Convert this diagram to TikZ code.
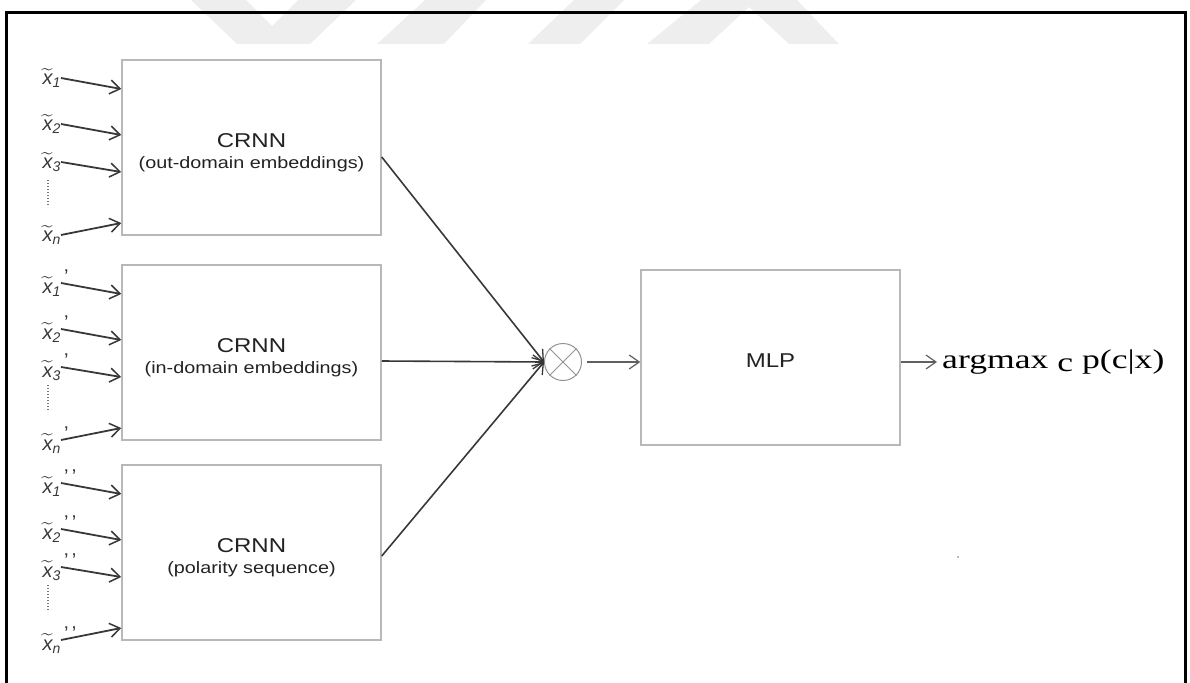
\documentclass[tikz,border=0pt]{standalone}
\usepackage{amsmath}
\usepackage{graphicx}
\usepackage{fontspec}
\setmainfont{Liberation Sans}
\newfontfamily\outserif{Liberation Serif}
\usetikzlibrary{arrows.meta,calc}

\definecolor{wmark}{HTML}{EEEEEE}
\definecolor{boxline}{HTML}{B8B8B8}
\definecolor{ink}{HTML}{383838}
\definecolor{txt}{HTML}{222222}

% input symbol: tilde x with subscript and optional primes
\newcommand{\xin}[2]{$\widetilde{\text{\itshape x}}_{\text{\itshape #1}}$\rlap{\raisebox{0.9ex}{\,#2}}}
% slightly widened lettering
\newcommand{\wide}[2]{\scalebox{#1}[1]{#2}}

\tikzset{
  blockbox/.style={draw=boxline, line width=1.5pt, minimum width=259pt, minimum height=175pt,
    align=center, text=txt, inner sep=0pt},
  inlab/.style={inner sep=0pt, text=ink, font=\fontsize{20}{22}\selectfont},
  inarrow/.style={draw=ink, line width=1.8pt, -{Straight Barb[length=10pt,width=14pt,line width=1.5pt]}},
  conn/.style={draw=ink, line width=1.6pt, -{Straight Barb[length=10pt,width=14pt,line width=1.3pt]}},
  thinarrow/.style={draw=ink!80, line width=1.3pt, -{Straight Barb[length=10pt,width=14pt,line width=1.2pt]}},
  dotline/.style={draw=ink!70, line width=1.3pt, dash pattern=on 1pt off 2pt},
  title/.style={inner sep=0pt, text=txt, font=\fontsize{20}{22}\selectfont},
  sub/.style={inner sep=0pt, text=txt, font=\fontsize{16.5}{18}\selectfont},
}

\begin{document}
\begin{tikzpicture}[x=1pt,y=-1pt]
\useasboundingbox (0,0) rectangle (1190,682);
\clip (0,0) rectangle (1190,682);

% faint logo stripes along the top edge
\fill[wmark] (191,0) -- (237,44) -- (310,44) -- (356,0) -- (298,0) -- (272,26) -- (246,0) -- cycle;
\fill[wmark] (377,44) -- (425,0) -- (486,0) -- (444,44) -- cycle;
\fill[wmark] (528,44) -- (574,0) -- (624,0) -- (580,44) -- cycle;
\fill[wmark] (647,44) -- (701,0) -- (797,0) -- (839,44) -- (789,44) -- (749,7) -- (709,44) -- cycle;

% outer frame
\draw[line width=3pt] (6,13) rectangle (1185,720);

% three encoders
\node[blockbox] (b1) at (251.5,147.5) {};
\node[blockbox] (b2) at (251.5,352.5) {};
\node[blockbox] (b3) at (251.5,552.5) {};
\foreach \b/\s in {b1/out-domain embeddings, b2/in-domain embeddings, b3/polarity sequence} {
  \node[title] (\b-t) at ([yshift=7pt]\b.center) {\wide{1.2}{CRNN}};
  \node[sub] (\b-s) at ([yshift=-17pt]\b.center) {\wide{1.2}{(\s)}};
}

% input sequences of each encoder
\foreach \b/\t/\p in {b1/60/{}, b2/265/{’}, b3/465/{’\,’}} {
  \foreach \i/\ty/\hy in {1/18/29, 2/64/75, 3/102/112, n/175/163} {
    \pgfmathsetmacro{\yt}{\t+\ty}
    \pgfmathsetmacro{\yh}{\t+\hy}
    \node[inlab, anchor=east] (\b-x\i) at (61,\yt) {\xin{\i}{\p}};
    \coordinate (\b-in\i) at (\b.west |- 0,\yh);
    \draw[inarrow] (\b-x\i.east) -- (\b-in\i);
  }
  \draw[dotline] (48,\t+120) -- (48,\t+146);
}

% merge
\node[draw=ink!55, line width=1pt, circle, minimum size=37pt, inner sep=0pt] (mul) at (563,362) {};
\draw[ink!55, line width=1pt] (mul.north west) -- (mul.south east) (mul.north east) -- (mul.south west);
\draw[conn] ([yshift=-9.5pt]b1.east) -- (mul.west);
\draw[conn] ([yshift=-8.5pt]b2.east) -- (mul.west);
\draw[conn] ([yshift=-3.5pt]b3.east) -- (mul.west);

% classifier
\node[blockbox] (mlp) at (770.5,357.5) {};
\node[title] (mlp-t) at ([yshift=-3pt]mlp.center) {\wide{1.2}{MLP}};
\coordinate (mlpin) at (mlp.west |- mul.center);
\coordinate (mlpout) at (mlp.east |- mul.center);
\draw[thinarrow, shorten <=5pt] (mul.east) -- (mlpin);

\node[anchor=west, inner sep=0pt, text=black] (out) at (942,362)
  {\outserif\fontsize{27}{30}\selectfont\wide{1.32}{argmax \raisebox{-3pt}{c} p(c|x)}};
\draw[thinarrow, shorten >=5pt] (mlpout) -- (out.west);

\fill[ink!70] (958,557) circle (0.8pt);
\end{tikzpicture}
\end{document}
